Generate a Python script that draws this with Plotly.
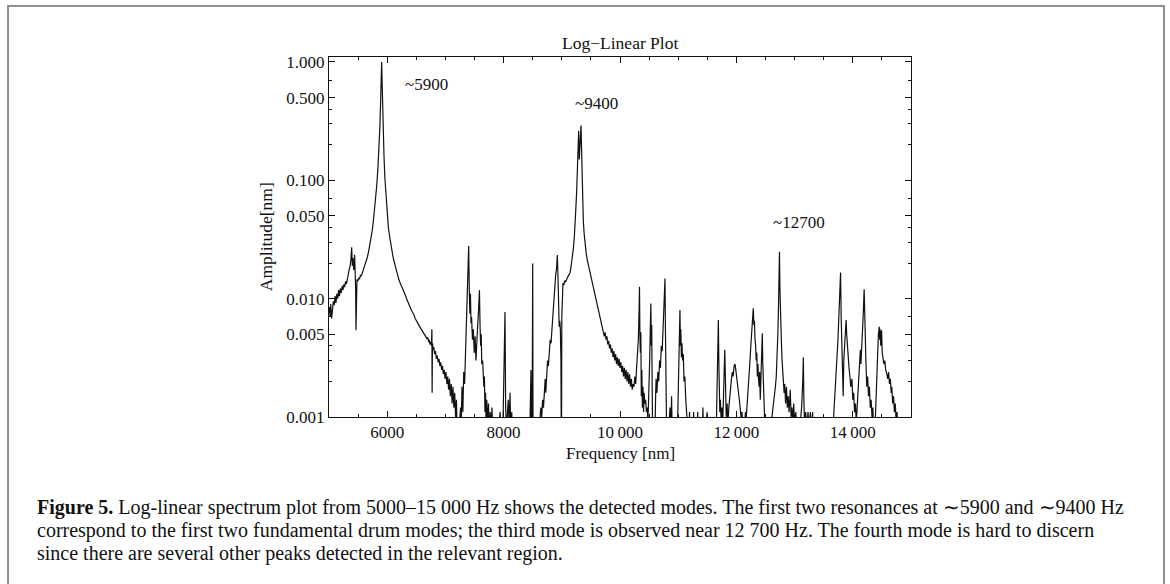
import math
import plotly.graph_objects as go

# ---- data ----
freq_hz = [
 5000,5010,5020,5030,5045,5060,5075,5090,5105,5120,5135,5150,5165,5180,5195,5210,5225,5240,5255,5270,
 5285,5300,5315,5330,5345,5360,5375,5390,5400,5410,5425,5440,5450,5458,5464,5470,5480,5495,5510,5525,
 5540,5555,5570,5585,5600,5620,5640,5660,5680,5700,5720,5740,5760,5780,5800,5820,5840,5860,5875,5888,
 5898,5905,5912,5920,5932,5945,5960,5980,6000,6020,6040,6060,6080,6100,6120,6140,6160,6180,6200,6220,
 6240,6260,6280,6300,6320,6340,6360,6380,6400,6420,6440,6460,6480,6500,6520,6540,6560,6580,6600,6620,
 6640,6660,6680,6700,6710,6720,6735,6750,6760,6768,6772,6778,6790,6800,6815,6830,6845,6860,6875,6890,
 6905,6920,6935,6950,6965,6980,6995,7010,7025,7040,7055,7070,7085,7100,7115,7130,7145,7160,7175,7190,
 7200,7230,7260,7270,7285,7300,7315,7330,7345,7360,7375,7390,7400,7410,7420,7430,7440,7450,7465,7480,
 7495,7510,7525,7540,7555,7570,7585,7595,7605,7615,7625,7640,7650,7660,7670,7680,7690,7700,7710,7725,
 7740,7755,7770,7785,7800,7815,7830,7850,7880,7900,7940,7960,7990,8010,8024,8035,8050,8080,8095,8110,
 8125,8140,8160,8300,8450,8470,8478,8490,8500,8506,8600,8620,8640,8655,8670,8685,8700,8715,8725,8740,
 8755,8770,8785,8800,8815,8830,8845,8860,8870,8880,8895,8910,8923,8935,8945,8955,8965,8975,8985,8990,
 8996,9000,9010,9020,9035,9050,9065,9080,9095,9110,9125,9140,9155,9170,9185,9200,9215,9227,9240,9255,
 9268,9280,9290,9300,9310,9322,9330,9338,9345,9355,9370,9385,9400,9420,9440,9460,9485,9510,9535,9560,
 9585,9600,9620,9640,9660,9680,9700,9715,9730,9745,9760,9775,9790,9805,9820,9835,9850,9865,9880,9895,
 9910,9925,9940,9955,9970,9985,10000,10015,10030,10045,10060,10075,10090,10105,10120,10135,10150,10165,10180,10195,
 10210,10225,10240,10255,10270,10285,10300,10315,10328,10335,10342,10350,10358,10366,10375,10385,10395,10405,10415,10425,
 10440,10455,10470,10480,10495,10510,10522,10530,10538,10545,10552,10560,10580,10600,10612,10620,10635,10650,10665,10680,
 10695,10710,10725,10740,10755,10765,10773,10780,10788,10800,10830,10860,10872,10886,10895,10920,10960,10990,11000,11010,
 11020,11030,11038,11045,11055,11065,11075,11088,11100,11115,11130,11145,11155,11180,11195,11205,11250,11265,11275,11320,
 11335,11345,11410,11425,11435,11480,11495,11505,11650,11668,11680,11690,11698,11705,11715,11725,11735,11750,11762,11775,
 11790,11800,11808,11815,11825,11840,11855,11870,11885,11900,11915,11930,11945,11960,11976,11990,12005,12020,12035,12050,
 12065,12080,12095,12110,12125,12140,12155,12170,12185,12200,12215,12230,12245,12260,12275,12290,12300,12310,12320,12330,
 12340,12350,12360,12370,12380,12390,12400,12410,12420,12430,12438,12445,12452,12460,12470,12480,12490,12510,12540,12560,
 12580,12600,12620,12640,12655,12670,12685,12700,12712,12722,12730,12740,12748,12756,12765,12775,12785,12795,12810,12820,
 12830,12845,12860,12875,12890,12905,12925,12940,12955,12970,12985,13000,13020,13040,13060,13080,13100,13120,13140,13150,
 13158,13170,13190,13210,13230,13250,13270,13290,13310,13320,13350,13650,13665,13680,13700,13715,13730,13745,13760,13775,
 13790,13800,13810,13820,13835,13845,13860,13875,13885,13895,13905,13920,13935,13950,13965,13985,14000,14015,14030,14045,
 14060,14070,14085,14100,14115,14130,14140,14150,14165,14180,14195,14205,14215,14225,14240,14255,14270,14285,14300,14315,
 14330,14345,14355,14370,14385,14400,14415,14428,14440,14448,14455,14462,14470,14480,14495,14505,14520,14535,14550,14565,
 14585,14600,14615,14630,14645,14660,14670,14685,14700,14715,14730,14745,14760,14775,14790,
]

amp_nm = [
 0.0075,0.0085,0.0070,0.0090,0.0068,0.0082,0.0095,0.0088,0.0105,0.0092,0.0110,0.0100,0.0118,0.0105,0.0122,0.0112,0.0128,0.0118,0.0132,0.0125,
 0.0140,0.0133,0.0150,0.0160,0.0175,0.0185,0.0210,0.0272,0.0190,0.0220,0.0175,0.0235,0.0160,0.0120,0.0054,0.0120,0.0145,0.0140,0.0150,0.0146,
 0.0158,0.0155,0.0168,0.0172,0.0182,0.0195,0.0205,0.0225,0.0250,0.0280,0.0320,0.0370,0.0440,0.0540,0.0680,0.090,0.125,0.190,0.290,0.480,
 0.800,1.000,0.700,0.420,0.250,0.160,0.105,0.070,0.052,0.040,0.034,0.029,0.025,0.0225,0.0205,0.0185,0.0170,0.0155,0.0145,0.0137,
 0.0130,0.0125,0.0120,0.0112,0.0105,0.0098,0.0092,0.0088,0.0083,0.0079,0.0076,0.0073,0.0068,0.0066,0.0063,0.0060,0.0058,0.0056,0.0054,0.0052,
 0.0050,0.0048,0.0046,0.0047,0.0043,0.0045,0.0041,0.0043,0.0040,0.0055,0.0016,0.0042,0.0037,0.0039,0.0034,0.0036,0.0031,0.0033,0.0029,0.0031,
 0.0027,0.0029,0.0025,0.0027,0.0023,0.0025,0.0021,0.0024,0.0019,0.0022,0.0017,0.0021,0.0015,0.0019,0.0013,0.0018,0.0012,0.0016,0.0010,0.0014,
 0.0008,0.0007,0.0012,0.0008,0.0018,0.0011,0.0024,0.0019,0.0035,0.0050,0.0090,0.0140,0.0278,0.0120,0.0075,0.0110,0.0062,0.0070,0.0045,0.0055,
 0.0035,0.0048,0.0030,0.0050,0.0060,0.0080,0.0118,0.0060,0.0040,0.0050,0.0028,0.0030,0.0023,0.0018,0.0022,0.0011,0.0016,0.0008,0.0014,0.0009,
 0.0013,0.0007,0.0011,0.0008,0.0012,0.0007,0.0010,0.0007,0.0009,0.0006,0.0011,0.0007,0.0009,0.0025,0.0077,0.0012,0.0008,0.0014,0.0008,0.0016,
 0.0007,0.0011,0.0006,0.0006,0.0007,0.0025,0.0006,0.0009,0.0198,0.0006,0.0007,0.0010,0.0012,0.0010,0.0014,0.0012,0.0018,0.0021,0.0016,0.0026,
 0.0030,0.0027,0.0038,0.0045,0.0042,0.0055,0.0060,0.0080,0.0099,0.0120,0.0160,0.0180,0.0234,0.0150,0.0080,0.0058,0.0065,0.0055,0.0030,0.0008,
 0.0009,0.0070,0.0120,0.0135,0.0130,0.0142,0.0138,0.0148,0.0150,0.0155,0.0160,0.0165,0.0180,0.0200,0.0230,0.0270,0.0330,0.0400,0.0560,0.0800,
 0.120,0.180,0.262,0.150,0.200,0.280,0.290,0.200,0.130,0.080,0.045,0.035,0.029,0.024,0.021,0.019,0.0175,0.0150,0.0130,0.0115,
 0.0102,0.0097,0.0085,0.0078,0.0070,0.0062,0.0058,0.0054,0.0048,0.0052,0.0045,0.0048,0.0041,0.0044,0.0038,0.0041,0.0035,0.0038,0.0032,0.0036,
 0.0030,0.0034,0.0028,0.0032,0.0027,0.0031,0.0026,0.0029,0.0024,0.0027,0.0022,0.0026,0.0021,0.0025,0.0020,0.0024,0.0019,0.0023,0.0018,0.0021,
 0.0017,0.0019,0.0018,0.0022,0.0019,0.0026,0.0032,0.0045,0.0080,0.0126,0.0050,0.0035,0.0052,0.0015,0.0025,0.0012,0.0018,0.0011,0.0016,0.0013,
 0.0014,0.0011,0.0012,0.0009,0.0014,0.0030,0.0060,0.0091,0.0040,0.0060,0.0020,0.0008,0.0009,0.0007,0.0015,0.0021,0.0016,0.0024,0.0020,0.0030,
 0.0026,0.0040,0.0036,0.0055,0.0070,0.0100,0.0148,0.0060,0.0025,0.0008,0.0007,0.0012,0.0007,0.0015,0.0008,0.0007,0.0006,0.0009,0.0014,0.0025,
 0.0045,0.0080,0.0040,0.0055,0.0032,0.0042,0.0030,0.0034,0.0020,0.0022,0.0014,0.0011,0.0007,0.0006,0.0011,0.0006,0.0006,0.0011,0.0006,0.0006,
 0.0011,0.0006,0.0006,0.0012,0.0006,0.0006,0.0011,0.0006,0.0006,0.0015,0.0035,0.0066,0.0030,0.0015,0.0011,0.0014,0.0010,0.0012,0.0008,0.0013,
 0.0020,0.0037,0.0025,0.0014,0.0010,0.0013,0.0009,0.0012,0.0015,0.0018,0.0021,0.0024,0.0022,0.0027,0.0028,0.0025,0.0022,0.0020,0.0017,0.0014,
 0.0012,0.0010,0.0011,0.0009,0.0010,0.0008,0.0011,0.0010,0.0013,0.0016,0.0020,0.0028,0.0038,0.0050,0.0065,0.0083,0.0060,0.0065,0.0045,0.0040,
 0.0030,0.0035,0.0022,0.0028,0.0021,0.0018,0.0024,0.0014,0.0020,0.0026,0.0040,0.0051,0.0030,0.0020,0.0014,0.0010,0.0008,0.0007,0.0007,0.0010,
 0.0007,0.0009,0.0011,0.0012,0.0014,0.0018,0.0022,0.0030,0.0050,0.0080,0.0140,0.0249,0.0120,0.0070,0.0054,0.0040,0.0030,0.0025,0.0021,0.0016,
 0.0019,0.0013,0.0018,0.0012,0.0015,0.0011,0.0017,0.0010,0.0012,0.0009,0.0013,0.0008,0.0011,0.0008,0.0010,0.0007,0.0009,0.0012,0.0020,0.0032,
 0.0015,0.0009,0.0011,0.0008,0.0011,0.0008,0.0011,0.0008,0.0011,0.0007,0.0006,0.0006,0.0009,0.0012,0.0016,0.0022,0.0030,0.0045,0.0070,0.0110,
 0.0166,0.0070,0.0040,0.0020,0.0015,0.0030,0.0045,0.0060,0.0066,0.0050,0.0040,0.0030,0.0026,0.0022,0.0018,0.0021,0.0014,0.0016,0.0011,0.0013,
 0.0009,0.0011,0.0016,0.0022,0.0030,0.0037,0.0028,0.0040,0.0050,0.0075,0.0120,0.0060,0.0040,0.0030,0.0018,0.0022,0.0015,0.0018,0.0012,0.0014,
 0.0010,0.0012,0.0008,0.0010,0.0009,0.0013,0.0020,0.0035,0.0050,0.0057,0.0058,0.0045,0.0055,0.0040,0.0054,0.0035,0.0032,0.0028,0.0030,0.0025,
 0.0023,0.0021,0.0024,0.0019,0.0021,0.0016,0.0018,0.0013,0.0015,0.0011,0.0013,0.0009,0.0011,0.0008,0.0010,
]

x_tick_vals = [6000, 8000, 10000, 12000, 14000]
x_tick_text = ["6000", "8000", "10\u2009000", "12\u2009000", "14\u2009000"]
x_minor_vals = [5000, 5500, 6500, 7000, 7500, 8500, 9000, 9500, 10500, 11000, 11500,
                12500, 13000, 13500, 14500, 15000]
y_tick_vals = [0.001, 0.005, 0.01, 0.05, 0.1, 0.5, 1.0]
y_tick_text = ["0.001", "0.005", "0.010", "0.050", "0.100", "0.500", "1.000"]
y_minor_vals = [0.002, 0.003, 0.004, 0.007, 0.02, 0.03, 0.04, 0.07, 0.2, 0.3, 0.4, 0.7]

peak_labels = ["~5900", "~9400", "~12700"]
peak_label_x = [6270, 9185, 12600]
peak_label_y = [0.64, 0.45, 0.0436]

SERIF = "Liberation Serif"

fig = go.Figure()
fig.add_trace(go.Scatter(x=freq_hz, y=amp_nm, mode="lines",
                         line=dict(color="#111111", width=1.2), showlegend=False,
                         hoverinfo="skip"))

for t, xx, yy in zip(peak_labels, peak_label_x, peak_label_y):
    # annotation positions on a log axis are given in log10 units
    fig.add_annotation(x=xx, y=math.log10(yy), yref="y", xref="x", text=t, showarrow=False,
                       xanchor="left", yanchor="middle",
                       font=dict(family=SERIF, size=17, color="#111"))

axis_common = dict(showline=True, linecolor="#111", linewidth=1, mirror="ticks",
                   ticks="inside", ticklen=6, tickwidth=1, tickcolor="#111",
                   showgrid=False, zeroline=False,
                   tickfont=dict(family=SERIF, size=17, color="#111"))

fig.update_xaxes(range=[5000, 15000], tickmode="array", tickvals=x_tick_vals,
                 ticktext=x_tick_text,
                 minor=dict(tickmode="array", tickvals=x_minor_vals, ticks="inside",
                            ticklen=3, tickcolor="#111", showgrid=False),
                 **axis_common)
fig.update_yaxes(type="log", range=[-3, 0.042], tickmode="array", tickvals=y_tick_vals,
                 ticktext=y_tick_text,
                 minor=dict(tickmode="array", tickvals=y_minor_vals, ticks="inside",
                            ticklen=3, tickcolor="#111", showgrid=False),
                 **axis_common)

# axis titles & plot title
fig.add_annotation(xref="paper", yref="paper", x=0.5, y=1.039, text="Log\u2212Linear Plot",
                   showarrow=False, xanchor="center", yanchor="middle",
                   font=dict(family=SERIF, size=17.5, color="#111"))
fig.add_annotation(xref="paper", yref="paper", x=0.5, y=-0.1, text="Frequency [nm]",
                   showarrow=False, xanchor="center", yanchor="middle",
                   font=dict(family=SERIF, size=17, color="#111"))
fig.add_annotation(xref="paper", yref="paper", x=-0.108, y=0.5, text="Amplitude[nm]",
                   showarrow=False, xanchor="center", yanchor="middle", textangle=-90,
                   font=dict(family=SERIF, size=17.5, color="#111"))

# caption
caption_lines = [
    "<b>Figure 5.</b> Log-linear spectrum plot from 5000\u201315 000 Hz shows the detected modes. "
    "The first two resonances at \u223c5900 and \u223c9400 Hz",
    "correspond to the first two fundamental drum modes; the third mode is observed near "
    "12 700 Hz. The fourth mode is hard to discern",
    "since there are several other peaks detected in the relevant region.",
]
caption_y = [-0.25, -0.3139, -0.3778]
for line, yy in zip(caption_lines, caption_y):
    fig.add_annotation(xref="paper", yref="paper", x=-0.5052, y=yy, text=line,
                       showarrow=False, xanchor="left", yanchor="middle",
                       font=dict(family=SERIF, size=20, color="#111"))

# outer frame
fig.add_shape(type="rect", xref="paper", yref="paper", x0=-0.5515, x1=1.4347,
              y0=-0.52, y1=1.1417, line=dict(color="#8f8f8f", width=2), layer="below")

fig.update_layout(width=1170, height=584, margin=dict(l=329, r=259, t=57, b=167),
                  paper_bgcolor="white", plot_bgcolor="white")

fig.write_html("out.html")
